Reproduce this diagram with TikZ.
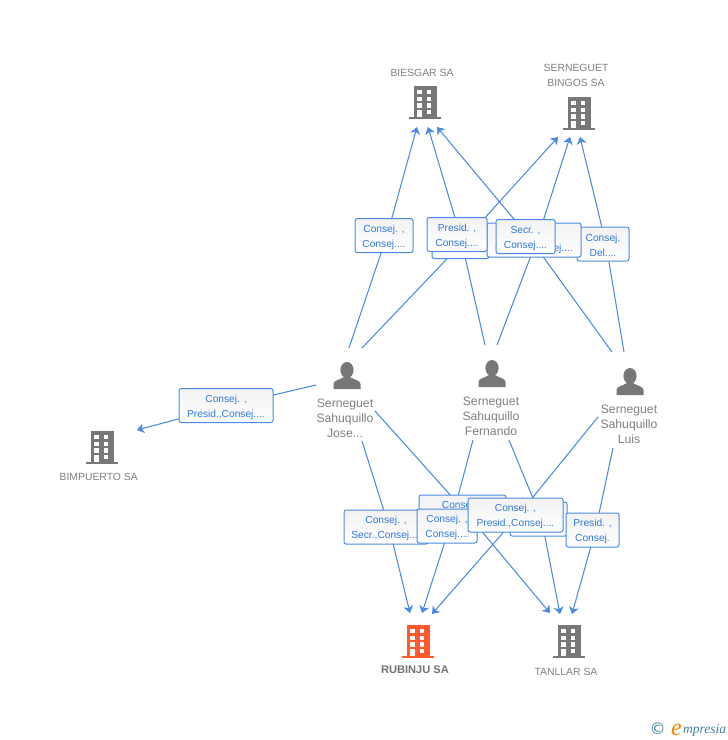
\documentclass[tikz,border=0pt]{standalone}
\usepackage{fontspec}
\setmainfont{Liberation Sans}
\newfontfamily\logofont{Liberation Serif}
\newfontfamily\symfont{DejaVu Sans}
\usetikzlibrary{arrows.meta,backgrounds}
\definecolor{linkblue}{HTML}{4A8AE4}
\definecolor{textblue}{HTML}{3078DC}
\definecolor{icongray}{HTML}{777777}
\definecolor{labelgray}{HTML}{808080}
\definecolor{iconorange}{HTML}{FF5A2C}
\definecolor{logoteal}{HTML}{3F7F9A}
\newcommand\twolines[2]{\rule{0pt}{11pt}#1\\#2}
\tikzset{
  linkbox/.style={shade,top color=black!5,bottom color=white,draw=linkblue,line width=1pt,rounded corners=2.2pt,
    inner sep=0pt,minimum height=#1,text=textblue,align=center,font=\fontsize{10.2}{15}\selectfont},
  linkbox/.default=34,
  comp/.style={text=labelgray,align=center,inner sep=0pt,font=\fontsize{10.4}{15}\selectfont},
  who/.style={text=labelgray,align=center,inner sep=0pt,font=\fontsize{12.2}{15}\selectfont},
  link/.style={draw=linkblue,line width=1.05pt},
  building/.pic={
    \fill[pic actions] (-11.5,-33) rectangle (11.5,-2);
    \fill[pic actions] (-16,-2) rectangle (16,0);
    \foreach \c in {-7.8,1.8}
      \foreach \r in {-29,-22.3,-15.7}
        \fill[white] (\c,\r) rectangle +(4.6,4.3);
    \fill[white] (-7.8,-9) rectangle +(4.6,7);
    \fill[white] (1.8,-9) rectangle +(4.6,4.3);
  },
  person/.pic={
    \fill[pic actions] (0,-19) ellipse (6.6 and 8);
    \fill[pic actions] (-13.5,0) -- (-13.5,-5) .. controls (-13.5,-9) and (-7,-9) .. (-3,-12)
      -- (3,-12) .. controls (7,-9) and (13.5,-9) .. (13.5,-5) -- (13.5,0) -- cycle;
  }
}
\begin{document}
\begin{tikzpicture}[x=1pt,y=-1pt]
\useasboundingbox (0,0) rectangle (728,740);
% companies
\pic[fill=icongray] at (425,119) {building};
\pic[fill=icongray] at (579,130) {building};
\pic[fill=icongray] at (102,464) {building};
\pic[fill=iconorange] at (418,658) {building};
\pic[fill=icongray] at (569,658) {building};
\node[comp] (biesgar) at (422,72.7) {BIESGAR SA};
\node[comp] (bingos) at (576,75.2) {SERNEGUET\\BINGOS SA};
\node[comp] (bimpuerto) at (98.7,476.7) {BIMPUERTO SA};
\node[comp,text=labelgray!90!black,font=\fontsize{11.1}{15}\selectfont\bfseries] (rubinju) at (415,669.7) {RUBINJU SA};
\node[comp] (tanllar) at (566,671.7) {TANLLAR SA};
% people
\pic[fill=icongray] at (347,389) {person};
\pic[fill=icongray] at (492,387) {person};
\pic[fill=icongray] at (630,395) {person};
\node[who] (jose) at (345,418.4) {Serneguet\\Sahuquillo\\Jose...};
\node[who] (fernando) at (491,416.7) {Serneguet\\Sahuquillo\\Fernando};
\node[who] (luis) at (629,424.7) {Serneguet\\Sahuquillo\\Luis};
% free ends of the links
\coordinate (j1) at (349,348); \coordinate (j2) at (362,348); \coordinate (j3) at (316,385);
\coordinate (j4) at (362,441); \coordinate (j5) at (375,411);
\coordinate (f1) at (485,345); \coordinate (f2) at (497,345);
\coordinate (f3) at (473,440); \coordinate (f4) at (509,440);
\coordinate (l1) at (612,352); \coordinate (l2) at (624,352);
\coordinate (l3) at (598,417); \coordinate (l4) at (613,448);
\coordinate (b1) at (417,127); \coordinate (b2) at (428,127); \coordinate (b3) at (437,127);
\coordinate (s1) at (558,137); \coordinate (s2) at (570,137); \coordinate (s3) at (580,137);
\coordinate (r1) at (410,613); \coordinate (r2) at (422,613); \coordinate (r3) at (432,614);
\coordinate (t1) at (550,613); \coordinate (t2) at (560,614); \coordinate (t3) at (572,614);
\coordinate (m1) at (137,430);
% boxes, back to front
\node[linkbox,minimum width=58] (boxa) at (384,235.5) {\twolines{Consej. ,}{Consej....}};
\node[linkbox,minimum width=52] (boxf) at (603,244) {\twolines{Consej.}{Del....}};
\node[linkbox,minimum width=57] (boxc) at (460.5,241.5) {};
\node[linkbox,minimum width=94] (boxe) at (534,240) {\twolines{Consej. ,}{Presid.,Consej....}};
\node[linkbox,minimum width=60] (boxb) at (457,234.5) {\twolines{Presid. ,}{Consej....}};
\node[linkbox,minimum width=59] (boxd) at (525.5,236.5) {\twolines{Secr. ,}{Consej....}};
\node[linkbox,minimum width=94] (boxm) at (226,405.5) {\twolines{Consej. ,}{Presid.,Consej....}};
\node[linkbox,minimum width=87] (boxh) at (462.5,512) {\twolines{Consej. ,}{Presid.,Consej....}};
\node[linkbox,minimum width=84] (boxg) at (386,527) {\twolines{Consej. ,}{Secr.,Consej....}};
\node[linkbox,minimum width=57] (boxj) at (538.5,519) {};
\node[linkbox,minimum width=53] (boxl) at (592.5,530) {\twolines{Presid. ,}{Consej.}};
\node[linkbox,minimum width=60] (boxi) at (447,526) {\twolines{Consej. ,}{Consej....}};
\node[linkbox,minimum width=95] (boxk) at (515.5,515) {\twolines{Consej. ,}{Presid.,Consej....}};
% links go under the boxes
\begin{pgfonlayer}{background}
\foreach \from/\via/\to in {j1/boxa/b1,f1/boxb/b2,l1/boxd/b3,j2/boxc/s1,f2/boxe/s2,l2/boxf/s3,
    j3/boxm/m1,j4/boxg/r1,f3/boxi/r2,l3/boxk/r3,j5/boxh/t1,f4/boxj/t2,l4/boxl/t3}
  \draw[link,-{Stealth[length=7pt,width=10pt,inset=2pt]}] (\from) -- ([xshift=3pt]\via.center) -- (\to);
\end{pgfonlayer}
% logo
\node[inner sep=0pt,text=logoteal,font=\symfont\fontsize{16}{16}\selectfont] (copyr) at (657.5,729) {©};
\node[inner sep=0pt,anchor=base west,text=orange,font=\logofont\itshape\fontsize{24}{24}\selectfont] (logoe) at (671,735) {e};
\node[inner sep=0pt,anchor=base west,text=logoteal,font=\logofont\itshape\fontsize{13.5}{15}\selectfont] (logotxt) at (683,733) {mpresia};
\end{tikzpicture}
\end{document}
